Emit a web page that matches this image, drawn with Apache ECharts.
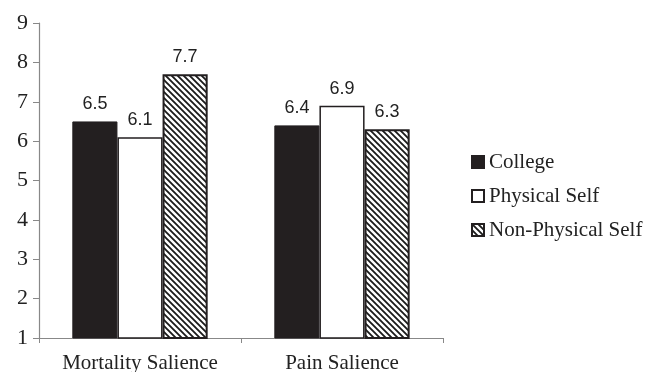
<!DOCTYPE html>
<html><head><meta charset="utf-8">
<script src="https://cdn.jsdelivr.net/npm/echarts@6/dist/echarts.min.js"></script>
<style>html,body{margin:0;padding:0;background:#fff}#c{width:660px;height:372px}</style>
</head><body><div id="c"></div>
<script>
var categories = ['Mortality Salience', 'Pain Salience'];
var seriesNames = ['College', 'Physical Self', 'Non-Physical Self'];
var college = [6.5, 6.4];
var physicalSelf = [6.1, 6.9];
var nonPhysicalSelf = [7.7, 6.3];
var yTicks = [1, 2, 3, 4, 5, 6, 7, 8, 9];

function hatch() {
  var c = document.createElement('canvas');
  c.width = 6; c.height = 6;
  var g = c.getContext('2d');
  g.fillStyle = '#fff'; g.fillRect(0, 0, 6, 6);
  g.strokeStyle = '#1a1a1a'; g.lineWidth = 1.8;
  g.beginPath();
  g.moveTo(-1, -1); g.lineTo(7, 7);
  g.moveTo(-4, 2); g.lineTo(4, 10);
  g.moveTo(2, -4); g.lineTo(10, 4);
  g.stroke();
  return c;
}
var pat = { image: hatch(), repeat: 'repeat' };

var chart = echarts.init(document.getElementById('c'), null, { renderer: 'canvas' });
var labelStyle = { show: true, position: 'top', distance: 8, fontFamily: 'Liberation Sans', fontSize: 18, color: '#222' };
chart.setOption({
  animation: false,
  grid: { left: 39, right: 217, top: 23, bottom: 34, outerBoundsMode: 'none', containLabel: false },
  legend: {
    orient: 'vertical', left: 466, top: 146,
    itemWidth: 12, itemHeight: 12, itemGap: 12,
    textStyle: { fontFamily: 'Liberation Serif', fontSize: 21, color: '#222', lineHeight: 22 },
    data: [
      { name: seriesNames[0], icon: 'rect' },
      { name: seriesNames[1], icon: 'rect' },
      { name: seriesNames[2], icon: 'rect' }
    ]
  },
  xAxis: {
    type: 'category', data: categories,
    axisLine: { lineStyle: { color: '#888', width: 1.2 } },
    axisTick: { show: true, length: 5, lineStyle: { color: '#888' } },
    axisLabel: { interval: 0, fontFamily: 'Liberation Serif', fontSize: 21, color: '#222', margin: 15 }
  },
  yAxis: {
    type: 'value', min: 1, max: 9, interval: 1,
    axisLine: { show: true, lineStyle: { color: '#888', width: 1.2 } },
    axisTick: { show: true, length: 6, lineStyle: { color: '#888' } },
    splitLine: { show: false },
    axisLabel: { fontFamily: 'Liberation Serif', fontSize: 22, color: '#222', margin: 11,
      formatter: function (v) { return yTicks.indexOf(v) >= 0 ? String(v) : ''; } }
  },
  series: [
    { name: seriesNames[0], type: 'bar', data: college, barGap: '0%', barCategoryGap: '33%',
      itemStyle: { color: '#231f20', borderColor: '#231f20', borderWidth: 1 }, label: labelStyle },
    { name: seriesNames[1], type: 'bar', data: physicalSelf, barGap: '0%', barCategoryGap: '33%',
      itemStyle: { color: '#fff', borderColor: '#231f20', borderWidth: 1.5 }, label: labelStyle },
    { name: seriesNames[2], type: 'bar', data: nonPhysicalSelf, barGap: '0%', barCategoryGap: '33%',
      itemStyle: { color: pat, borderColor: '#231f20', borderWidth: 2 }, label: labelStyle }
  ]
});
</script></body></html>
